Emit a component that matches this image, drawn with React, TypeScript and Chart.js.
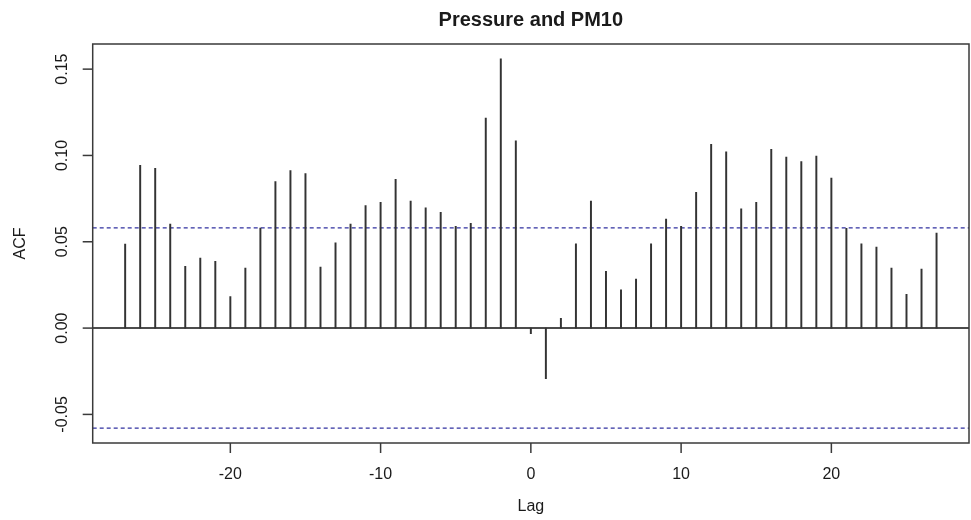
import React, { useEffect, useRef } from "react";
import { Chart, registerables } from "chart.js";

Chart.register(...registerables);

const TITLE = "Pressure and PM10";
const X_LABEL = "Lag";
const Y_LABEL = "ACF";

const LAGS = [
  -27, -26, -25, -24, -23, -22, -21, -20, -19, -18, -17, -16, -15, -14, -13, -12, -11, -10,
  -9, -8, -7, -6, -5, -4, -3, -2, -1, 0, 1, 2, 3, 4, 5, 6, 7, 8, 9,
  10, 11, 12, 13, 14, 15, 16, 17, 18, 19, 20, 21, 22, 23, 24, 25, 26, 27,
];

const ACF = [
  0.0487, 0.0943, 0.0926, 0.0603, 0.0358, 0.0405, 0.0387, 0.0183, 0.0347, 0.058, 0.0848, 0.0912, 0.0895, 0.0354, 0.0494, 0.0603, 0.071, 0.0728,
  0.0862, 0.0735, 0.0697, 0.0671, 0.0589, 0.0607, 0.1216, 0.156, 0.1085, -0.0033, -0.0293, 0.0057, 0.0488, 0.0735, 0.0329, 0.0222, 0.0284, 0.0488, 0.0632,
  0.0589, 0.0786, 0.1064, 0.1021, 0.0691, 0.0729, 0.1035, 0.099, 0.0965, 0.0996, 0.0869, 0.0578, 0.0488, 0.0469, 0.0347, 0.0195, 0.0342, 0.0551,
];

const CI = 0.058;

const X_TICKS = [-20, -10, 0, 10, 20];
const Y_TICKS = [-0.05, 0, 0.05, 0.1, 0.15];

// R-style 4% axis extension
const xLo = Math.min(...LAGS);
const xHi = Math.max(...LAGS);
const XMIN = xLo - (xHi - xLo) * 0.04;
const XMAX = xHi + (xHi - xLo) * 0.04;
const yLo = Math.min(-CI, ...ACF);
const yHi = Math.max(CI, ...ACF);
const YMIN = yLo - (yHi - yLo) * 0.04;
const YMAX = yHi + (yHi - yLo) * 0.04;

const FONT = '"Liberation Sans", Arial, sans-serif';
const TEXT = "#1a1a1a";

const axesPlugin = {
  id: "rAxes",
  afterDraw(chart: any) {
    const { ctx, chartArea: a, scales } = chart;
    const xs = scales.x;
    const ys = scales.y;
    ctx.save();
    // box
    ctx.strokeStyle = "#3a3a3a";
    ctx.lineWidth = 1.5;
    ctx.strokeRect(a.left, a.top, a.right - a.left, a.bottom - a.top);

    ctx.fillStyle = TEXT;
    ctx.font = `16px ${FONT}`;
    // x ticks
    ctx.textAlign = "center";
    ctx.textBaseline = "middle";
    for (const t of X_TICKS) {
      const px = xs.getPixelForValue(t);
      ctx.beginPath();
      ctx.moveTo(px, a.bottom);
      ctx.lineTo(px, a.bottom + 10);
      ctx.stroke();
      ctx.fillText(String(t), px, 475);
    }
    // y ticks (rotated labels)
    for (const t of Y_TICKS) {
      const py = ys.getPixelForValue(t);
      ctx.beginPath();
      ctx.moveTo(a.left, py);
      ctx.lineTo(a.left - 10, py);
      ctx.stroke();
      ctx.save();
      ctx.translate(63, py);
      ctx.rotate(-Math.PI / 2);
      ctx.fillText(t.toFixed(2), 0, 0);
      ctx.restore();
    }
    // axis titles
    ctx.fillText(X_LABEL, (a.left + a.right) / 2, 507);
    ctx.save();
    ctx.translate(21, (a.top + a.bottom) / 2);
    ctx.rotate(-Math.PI / 2);
    ctx.fillText(Y_LABEL, 0, 0);
    ctx.restore();
    // title
    ctx.font = `bold 20px ${FONT}`;
    ctx.fillText(TITLE, (a.left + a.right) / 2, 20);
    ctx.restore();
  },
};

export default function App() {
  const ref = useRef<HTMLCanvasElement | null>(null);

  useEffect(() => {
    if (!ref.current) return;
    const hLine = (y: number) => [
      { x: XMIN, y },
      { x: XMAX, y },
    ];
    const chart = new Chart(ref.current, {
      type: "bar",
      data: {
        datasets: [
          {
            type: "line",
            data: hLine(0),
            borderColor: "#111",
            borderWidth: 1.5,
            pointRadius: 0,
            order: 2,
          } as any,
          {
            type: "line",
            data: hLine(CI),
            borderColor: "#3030a0",
            borderWidth: 1.3,
            borderDash: [4, 3],
            pointRadius: 0,
            order: 2,
          } as any,
          {
            type: "line",
            data: hLine(-CI),
            borderColor: "#3030a0",
            borderWidth: 1.3,
            borderDash: [4, 3],
            pointRadius: 0,
            order: 2,
          } as any,
          {
            type: "bar",
            data: LAGS.map((l, i) => ({ x: l, y: ACF[i] })),
            backgroundColor: "#333333",
            barThickness: 1.3,
            order: 1,
          } as any,
        ],
      },
      options: {
        responsive: false,
        animation: false,
        devicePixelRatio: 1,
        layout: { padding: { left: 92.7, top: 44, right: 2, bottom: 77 } },
        plugins: { legend: { display: false }, tooltip: { enabled: false }, title: { display: false } },
        scales: {
          x: { type: "linear", min: XMIN, max: XMAX, display: false, offset: false },
          y: { type: "linear", min: YMIN, max: YMAX, display: false },
        },
      },
      plugins: [axesPlugin],
    });
    return () => chart.destroy();
  }, []);

  return (
    <div style={{ position: "fixed", left: 0, top: 0, width: 971, height: 520, background: "#fff" }}>
      <canvas ref={ref} width={971} height={520} style={{ width: 971, height: 520, display: "block" }} />
    </div>
  );
}
